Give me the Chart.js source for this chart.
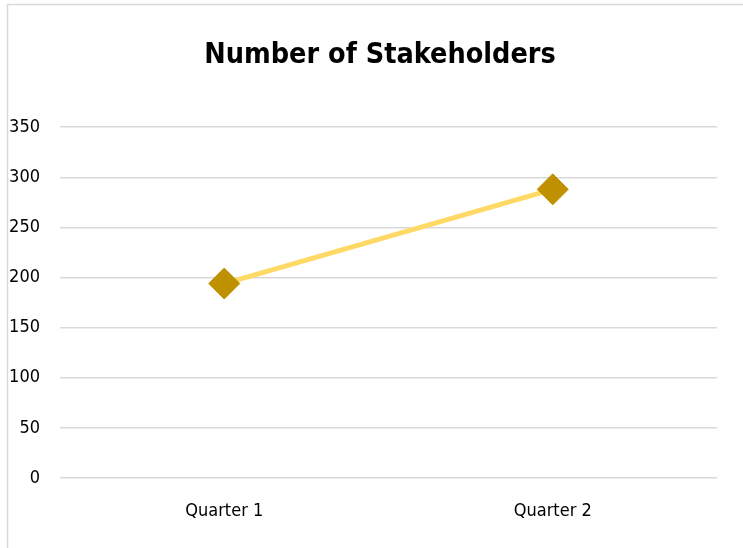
<!DOCTYPE html>
<html>
<head>
<meta charset="utf-8">
<script src="https://cdn.jsdelivr.net/npm/chart.js@4/dist/chart.umd.min.js"></script>
<style>
    html, body { margin: 0; padding: 0; background: #fff; }
    #wrap { width: 743px; height: 548px; position: relative; }
</style>
</head>
<body>
<div id="wrap"><canvas id="chart"></canvas></div>
<script>
const categories = ['Quarter 1', 'Quarter 2'];
const stakeholders = [194, 288];
const yTicks = [0, 50, 100, 150, 200, 250, 300, 350];

const FONT = '"DejaVu Sans Condensed", "DejaVu Sans", sans-serif';

// light frame around the chart like the office chart box,
// and the title centred on the whole frame rather than the plot
const framePlugin = {
    id: 'frame',
    afterLayout(chart) {
        if (chart.titleBlock) {
            chart.titleBlock.left = 17;
            chart.titleBlock.right = chart.width;
        }
    },
    beforeDraw(chart) {
        const ctx = chart.ctx;
        ctx.save();
        ctx.strokeStyle = '#d9d9d9';
        ctx.lineWidth = 1.5;
        ctx.beginPath();
        ctx.moveTo(7.5, chart.height + 2);
        ctx.lineTo(7.5, 4.5);
        ctx.lineTo(chart.width + 2, 4.5);
        ctx.stroke();
        ctx.restore();
    }
};

const config = {
    type: 'line',
    data: {
        labels: categories,
        datasets: [{
            label: 'Number of Stakeholders',
            data: stakeholders,
            borderColor: '#ffd966',
            borderWidth: 5,
            pointStyle: 'rectRot',
            pointRadius: 15.5,
            pointBackgroundColor: '#bf9000',
            pointBorderColor: '#bf9000',
            pointBorderWidth: 1,
            tension: 0
        }]
    },
    options: {
        responsive: true,
        maintainAspectRatio: false,
        animation: false,
        layout: { padding: { left: 0, right: 26, top: 0, bottom: 0 } },
        plugins: {
            legend: { display: false },
            tooltip: { enabled: false },
            title: {
                display: true,
                text: 'Number of Stakeholders',
                color: '#000',
                font: { family: FONT, size: 28.5, weight: 'bold' },
                padding: { top: 38, bottom: 55 }
            }
        },
        scales: {
            x: {
                offset: true,
                grid: { display: false, drawTicks: false },
                border: { display: false },
                ticks: { color: '#000', padding: 23, font: { family: FONT, size: 18 } },
                afterFit: (s) => { s.height = 70; }
            },
            y: {
                min: 0,
                max: 350,
                afterBuildTicks: (s) => { s.ticks = yTicks.map(v => ({ value: v })); },
                grid: { color: '#d9d9d9', lineWidth: 1.5, drawTicks: false },
                border: { display: false },
                ticks: { color: '#000', padding: 20, font: { family: FONT, size: 18 } },
                afterFit: (s) => { s.width = 60; }
            }
        }
    },
    plugins: [framePlugin]
};

new Chart(document.getElementById('chart').getContext('2d'), config);
</script>
</body>
</html>
